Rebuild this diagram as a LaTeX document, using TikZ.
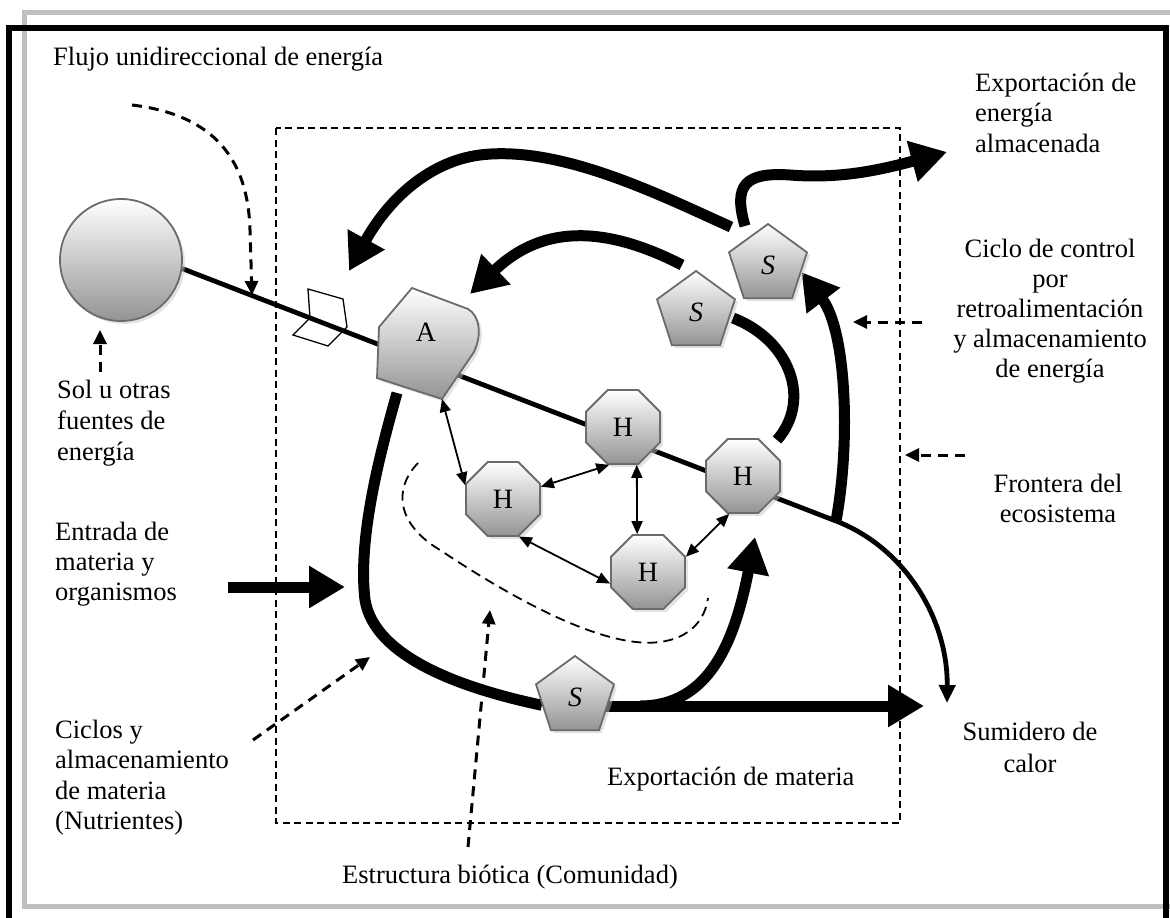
\documentclass[tikz,border=0pt]{standalone}
\usepackage{fontspec}
\setmainfont{Liberation Serif}
\usetikzlibrary{arrows.meta,shapes.geometric,shadows}
\pgfdeclarelayer{back}
\pgfsetlayers{back,main}
\begin{document}
\begin{tikzpicture}[x=1pt,y=-1pt,
  label text/.style={font=\fontsize{26.5}{30.5}\selectfont, inner sep=0pt},
  lefttext/.style={label text, anchor=base west},
  midtext/.style={label text, anchor=base},
  solid3d/.style={top color=white, bottom color=black!42, draw=black!58, line width=1.8pt,
     drop shadow={shadow xshift=3pt, shadow yshift=-3pt, fill=black!22}},
  herb/.style={solid3d, regular polygon, regular polygon sides=8, minimum size=80pt,
     inner sep=0pt, font=\fontsize{28}{30}\selectfont},
  store/.style={solid3d, regular polygon, regular polygon sides=5, minimum size=82pt,
     inner sep=0pt, font=\fontsize{28}{30}\selectfont\itshape},
  energyline/.style={line width=4.8pt},
  bigflow/.style={line width=11pt},
  bigarrow/.style={bigflow, -{Triangle[length=36pt,width=40pt]}},
  exchange/.style={line width=1.8pt, {Triangle[length=13pt,width=11pt]}-{Triangle[length=13pt,width=11pt]}},
  pointer/.style={line width=3pt, dash pattern=on 10pt off 7pt, -{Triangle[length=14pt,width=13pt]}},
  boundary/.style={line width=1.5pt, dash pattern=on 7pt off 4.5pt},
]
\useasboundingbox (0,0) rectangle (1170,918);

% double frame
\draw[line width=5.5pt, black!25] (24.5,12.5) rectangle (1200,906.5);
\draw[line width=6pt] (8.5,950) -- (8.5,28) -- (1166,28) -- (1166,950);

% compartments
\node[circle, solid3d, minimum size=122pt] (sun) at (121,260) {};
\path[solid3d] (412,288) -- (468,309) .. controls (480,316) and (482,335) .. (474,352)
   -- (442,399) -- (377,378) -- (379,327) -- cycle;
\node[label text, font=\fontsize{28}{30}\selectfont] (A) at (426,332) {A};
\coordinate (A-low) at (442,399);

\node[herb] (Ht) at (623,427) {H};
\node[herb] (Hl) at (503,499) {H};
\node[herb] (Hr) at (743,476) {H};
\node[herb] (Hb) at (648,572) {H};

\node[store] (S1) at (768,265) {S};
\node[store] (S2) at (696,312) {S};
\node[store] (S3) at (575,697) {S};

% named ends of the flows
\coordinate (E) at (836,521);
\coordinate (sink) at (947,703);
\coordinate (o1) at (731,227);  \coordinate (o2) at (349,271);
\coordinate (i1) at (682,265);  \coordinate (i2) at (470,294);
\coordinate (m1) at (733,318);  \coordinate (m2) at (777,440);
\coordinate (x1) at (745,226);  \coordinate (x2) at (947,152);
\coordinate (l1) at (397,393);
\coordinate (b1) at (606,706);  \coordinate (b2) at (924,706);
\coordinate (u1) at (640,706);  \coordinate (u2) at (755,537);
\coordinate (in1) at (228,587); \coordinate (in2) at (345,587);

\begin{pgfonlayer}{back}
  % ecosystem boundary
  \draw[boundary] (276,128) rectangle (900,823);
  % gate on the energy input
  \draw[line width=1.3pt, fill=white] (308,289) -- (343,299) -- (347,327) -- (328,346)
     -- (293,335) -- (310,318) -- cycle;
  % one-way energy flow and heat sink
  \draw[energyline] (sun.-8) -- (E);
  \draw[energyline, -{Triangle[length=18pt,width=16pt]}] (E) .. controls (906,548) and (948,620) .. (sink);
  % storage and feedback loops
  \draw[bigarrow] (o1) .. controls (660,195) and (560,145) .. (480,155)
     .. controls (425,162) and (385,205) .. (o2);
  \draw[bigarrow] (i1) .. controls (610,228) and (545,222) .. (i2);
  \draw[bigflow] (m1) .. controls (790,340) and (812,400) .. (m2);
  \draw[bigarrow] (E) .. controls (851,440) and (846,330) .. (S1.-12);
  \draw[bigarrow] (x1) .. controls (733,185) and (745,172) .. (790,175)
     .. controls (840,179) and (880,170) .. (x2);
  % nutrient cycle
  \draw[bigflow] (l1) .. controls (378,460) and (358,540) .. (365,600)
     .. controls (375,660) and (470,690) .. (S3.194);
  \draw[bigarrow] (b1) -- (b2);
  \draw[bigarrow] (u1) .. controls (710,706) and (735,640) .. (u2);
  \draw[bigarrow] (in1) -- (in2);
\end{pgfonlayer}

% exchanges inside the community
\draw[exchange] (A-low) -- (Hl.160);
\draw[exchange] (Hl.18) -- (Ht.250);
\draw[exchange] (Ht.-70) -- (Hb.106);
\draw[exchange] (Hl.-67) -- (Hb.197);
\draw[exchange] (Hb.22) -- (Hr.250);

% biotic structure outline
\draw[line width=1.8pt, dash pattern=on 10pt off 6pt] (418,463) .. controls (392,490) and (398,525) .. (440,550)
   .. controls (500,590) and (600,650) .. (660,642) .. controls (690,638) and (705,620) .. (708,598);

% label pointers
\coordinate (pf1) at (132,105); \coordinate (pf2) at (252,295);
\coordinate (ps1) at (100,372); \coordinate (ps2) at (100,330);
\coordinate (pc1) at (922,322); \coordinate (pc2) at (853,322);
\coordinate (pb1) at (965,455); \coordinate (pb2) at (905,455);
\coordinate (pn1) at (253,740); \coordinate (pn2) at (370,657);
\coordinate (pe1) at (468,847); \coordinate (pe2) at (490,610);
\draw[pointer] (pf1) .. controls (215,115) and (248,160) .. (250,230) -- (pf2);
\draw[pointer] (ps1) -- (ps2);
\draw[pointer] (pc1) -- (pc2);
\draw[pointer] (pb1) -- (pb2);
\draw[pointer] (pn1) -- (pn2);
\draw[pointer] (pe1) -- (pe2);

% labels
\node[lefttext] (flujo) at (53,65) {Flujo unidireccional de energía};
\node[lefttext] (expA) at (975,91) {Exportación de};
\node[lefttext] (expB) at (975,121) {energía};
\node[lefttext] (expC) at (975,152) {almacenada};
\node[midtext] (ctlA) at (1050,257) {Ciclo de control};
\node[midtext] (ctlB) at (1050,287) {por};
\node[midtext] (ctlC) at (1050,317) {retroalimentación};
\node[midtext] (ctlD) at (1050,347) {y almacenamiento};
\node[midtext] (ctlE) at (1050,377) {de energía};
\node[lefttext] (solA) at (57,398) {Sol u otras};
\node[lefttext] (solB) at (57,429) {fuentes de};
\node[lefttext] (solC) at (57,460) {energía};
\node[lefttext] (entA) at (55,540) {Entrada de};
\node[lefttext] (entB) at (55,570) {materia y};
\node[lefttext] (entC) at (55,600) {organismos};
\node[midtext] (froA) at (1058,492) {Frontera del};
\node[midtext] (froB) at (1058,522) {ecosistema};
\node[midtext] (sumA) at (1030,740) {Sumidero de};
\node[midtext] (sumB) at (1030,772) {calor};
\node[lefttext] (expM) at (607,785) {Exportación de materia};
\node[lefttext] (cicA) at (55,738) {Ciclos y};
\node[lefttext] (cicB) at (55,768) {almacenamiento};
\node[lefttext] (cicC) at (55,799) {de materia};
\node[lefttext] (cicD) at (55,829) {(Nutrientes)};
\node[lefttext] (est) at (342,883) {Estructura biótica (Comunidad)};
\end{tikzpicture}
\end{document}
